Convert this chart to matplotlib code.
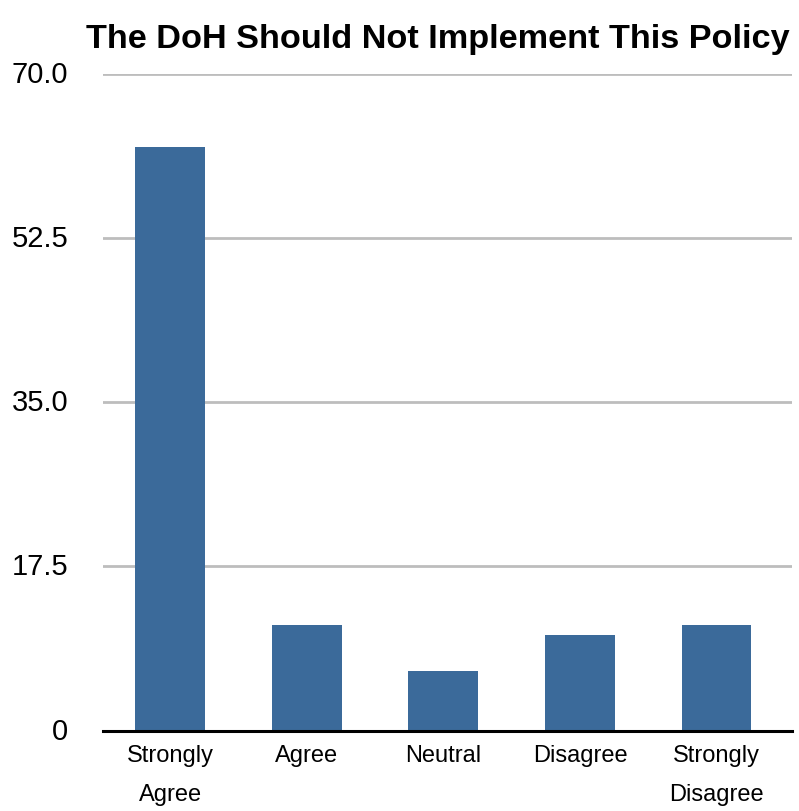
import matplotlib.pyplot as plt

categories = ['Strongly\nAgree', 'Agree', 'Neutral', 'Disagree', 'Strongly\nDisagree']
values = [62.2, 11.3, 6.3, 10.2, 11.3]
yticks = [0, 17.5, 35.0, 52.5, 70.0]
ytick_labels = ['0', '17.5', '35.0', '52.5', '70.0']

plt.rcParams['font.family'] = ['Liberation Sans', 'DejaVu Sans']

fig = plt.figure(figsize=(7.99, 8.12), dpi=100)
ax = fig.add_axes([0.129, 0.0991, 0.862, 0.8085])

x = range(len(categories))
ax.bar(x, values, width=0.51, color='#3b6a9a', zorder=3)

ax.set_ylim(0, 70)
ax.set_xlim(-0.49, 4.55)
ax.set_yticks(yticks)
ax.set_yticklabels(ytick_labels)
ax.set_xticks(list(x))
ax.set_xticklabels(categories, linespacing=1.95)
ax.tick_params(axis='y', length=0, pad=25, labelsize=21)
ax.tick_params(axis='x', length=0, pad=10, labelsize=17)
for lbl in ax.get_yticklabels():
    lbl.set_verticalalignment('center')

ax.grid(axis='y', color='#bdbdbd', linewidth=2, zorder=0)
ax.grid(axis='x', visible=False)
for side in ['top', 'right', 'left']:
    ax.spines[side].set_visible(False)
ax.spines['bottom'].set_linewidth(2.2)
ax.spines['bottom'].set_color('black')
ax.spines['bottom'].set_zorder(4)

fig.text(0.5476, 0.941, 'The DoH Should Not Implement This Policy',
         ha='center', va='baseline', fontsize=24.7, fontweight='bold')

fig.savefig('out.png', dpi=100)
